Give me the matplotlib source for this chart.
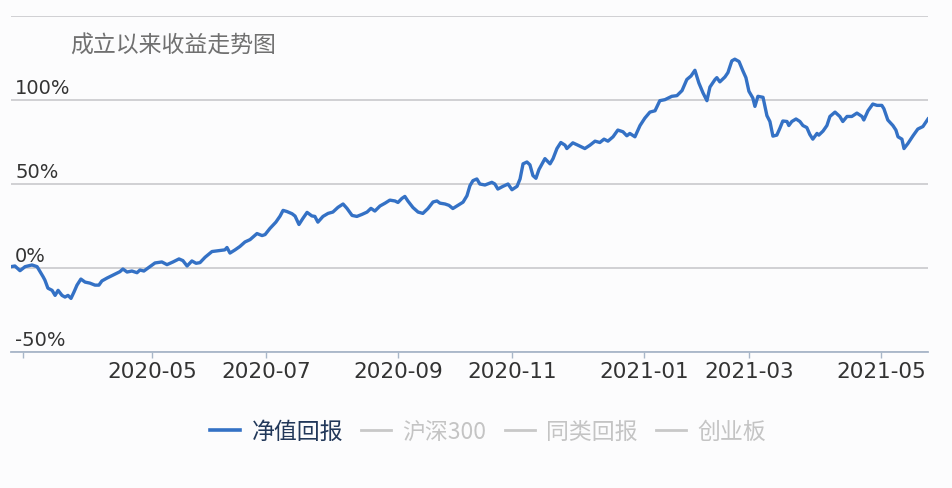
import matplotlib.pyplot as plt
from matplotlib.lines import Line2D
from matplotlib import transforms

# trading-day index since inception vs. cumulative return (%)
day = [0, 1.3, 3, 4.7, 7, 8.7, 9.7, 10.7, 11.3, 12.3, 13.7, 14.7, 15.7, 17, 18, 19, 20, 21, 22,
       23.3, 24.7, 26.3, 28, 29.3, 30.3, 32, 34, 36.3, 37.3, 38.7, 40.3, 42, 43, 44.3, 45.7,
       48, 50.3, 52, 54, 56, 57.3, 58.7, 60.3, 61.7, 63, 64.7, 67, 69.7, 71.3, 72, 73, 74.7,
       76.3, 78, 79.7, 80.7, 82, 83.7, 84.7, 86.3, 88.3, 89.7, 90.7, 92, 93.7, 94.7, 96,
       97.3, 98.7, 100.3, 101.3, 102.3, 104, 105.7, 107.3, 109, 110.7, 112, 113.7, 115.3, 117,
       118.7, 120, 121.3, 123, 124.7, 126.3, 128, 129, 130.3, 131.3, 132.3, 134, 135.7, 137.3,
       139, 140.7, 142, 143, 144.7, 146, 147.3, 149,
       150.7, 152, 153, 154, 155.3, 156.3, 158, 160.3, 161.3, 162.3, 164, 165.7, 167, 168.7,
       169.7, 170.7, 172, 173, 174, 175, 176, 178, 179.7, 180.7, 182, 183.3, 184.7, 185.3,
       187.3, 189, 191.3, 193, 194.7, 196.3, 197.7, 199,
       200.7, 202.3, 204, 205.3, 206.3, 208, 209.7, 211.3, 213, 214.7, 216.3, 218, 220.3, 222,
       223.7, 225.3, 226.7, 228, 229.3, 230.7, 232, 233, 234.7, 235.3, 236.3, 238, 239, 240.3,
       241.3, 242.7, 244, 245, 246, 247.3, 248, 249, 250.7, 252,
       253, 254, 255.3, 256.3, 257.3, 258.7, 259.3, 260.3, 261.7, 263, 264, 265.3, 266.3,
       267.3, 268.7, 269.3, 270.7, 272, 273, 274.7, 276.3, 277.3, 278.7, 280.3, 282, 283.7,
       284.3, 285.7, 287.3, 288.7, 290.3, 291, 292.3, 294, 295, 295.7, 297, 297.7, 299, 300.7,
       302.3, 304, 305.7]
ret = [0.8, 1.2, -1.6, 0.8, 1.8, 0.8, -2.2, -5.2, -7.2, -12.0, -13.3, -16.3, -13.3, -16.3,
       -17.3, -16.3, -18.1, -14.3, -10.2, -6.6, -8.4, -9.0, -10.2, -10.2, -7.7, -6.0, -4.2,
       -2.2, -0.6, -2.4, -1.8, -2.8, -1.2, -1.8, 0.0,
       3.0, 3.6, 2.0, 3.6, 5.4, 4.4, 1.2, 4.2, 2.8, 3.2, 6.4, 9.8, 10.4, 10.8, 12.2, 8.9, 10.8,
       12.8, 15.5, 16.9, 18.5, 20.5, 19.3, 19.9, 23.5, 27.3, 30.9, 34.3, 33.6, 32.3, 30.9, 25.9,
       29.5, 33.1, 31.0, 30.7, 27.3, 30.7, 32.5, 33.3, 36.1, 38.1, 35.5, 31.3, 30.7, 31.9,
       33.3, 35.5, 33.9, 36.9, 38.6, 40.4, 39.9, 39.0, 41.4, 42.6, 39.9, 36.0, 33.3, 32.5,
       35.4, 39.3, 39.9, 38.6, 38.1, 37.3, 35.4, 37.3,
       39.2, 43.0, 49.0, 52.0, 53.0, 50.0, 49.4, 51.0, 50.0, 47.0, 48.6, 50.0, 46.6, 48.6,
       53.0, 62.0, 63.1, 61.4, 55.0, 53.4, 58.6, 65.1, 62.0, 65.1, 71.1, 74.7, 73.1, 71.1,
       74.5, 73.1, 71.1, 73.1, 75.5, 74.7, 76.7, 75.5,
       78.1, 82.1, 81.1, 78.7, 80.1, 78.1, 84.8, 89.2, 92.8, 93.6, 99.6, 100.2, 102.2, 102.6,
       105.6, 112.2, 114.3, 117.7, 110.2, 104.2, 99.6, 107.7, 112.2, 113.3, 110.8, 113.7, 116.3,
       123.3, 124.3, 122.9, 117.3, 113.3, 105.2, 101.2, 96.2, 102.2, 101.6, 90.7,
       87.2, 78.5, 79.1, 83.1, 87.5, 87.2, 84.8, 87.2, 88.7, 87.2, 84.8, 83.6, 79.5,
       76.7, 80.1, 79.1, 81.5, 84.8, 90.2, 92.8, 90.2, 87.2, 90.2, 90.2, 92.2, 90.2,
       88.1, 93.6, 97.6, 96.8, 96.8, 94.8, 88.1, 84.8, 82.1, 78.1, 76.7, 71.1, 74.1, 78.7,
       82.7, 84.2, 88.7]

# month starts in trading-day index
month_pos = [4, 47, 85, 129, 167, 211, 246, 290]
month_labels = ['', '2020-05', '2020-07', '2020-09', '2020-11', '2021-01', '2021-03', '2021-05']
y_ticks = [-50, 0, 50, 100, 150]
y_labels = ['-50%', '0%', '50%', '100%', '']

legend_names = ['净值回报', '沪深300', '同类回报', '创业板']

blue = '#3471c5'
bg = '#fcfcfd'

plt.rcParams['font.family'] = ['Noto Sans CJK SC', 'DejaVu Sans']

fig = plt.figure(figsize=(9.52, 4.88), dpi=100, facecolor=bg)
ax = fig.add_axes([11 / 952, 1 - 352 / 488, 917 / 952, 336 / 488])
ax.set_facecolor(bg)

ax.plot(day, ret, color=blue, lw=2.4, solid_joinstyle='round', zorder=3)

ax.set_xlim(0, 305.7)
ax.set_ylim(-50, 150)

for s in ['top', 'right', 'left']:
    ax.spines[s].set_visible(False)
ax.spines['bottom'].set_color('#a8b6c8')
ax.spines['bottom'].set_linewidth(1.3)

ax.set_yticks(y_ticks)
ax.set_yticklabels([])
ax.tick_params(axis='y', length=0)
ax.grid(axis='y', color='#c9c9cc', lw=1.2)
ax.set_axisbelow(True)

ax.set_xticks(month_pos)
ax.set_xticklabels(month_labels, fontfamily='DejaVu Sans', fontsize=15.5, color='#333333')
ax.tick_params(axis='x', length=4.5, width=1, color='#a8b6c8', pad=2.5)

trans = transforms.blended_transform_factory(ax.transAxes, ax.transData)
for v, lab in zip(y_ticks, y_labels):
    ax.annotate(lab, xy=(0, v), xycoords=trans, xytext=(3, 4), textcoords='offset points',
                ha='left', va='baseline', fontsize=14, color='#333333',
                fontfamily='DejaVu Sans')

fig.text(70 / 952, 1 - 46 / 488, '成立以来收益走势图', fontsize=16.5, color='#707070',
         va='center', ha='left')

handles = [Line2D([], [], color=blue, lw=2.6)]
handles += [Line2D([], [], color='#c8c8c8', lw=2.0) for _ in legend_names[1:]]
leg = fig.legend(handles, legend_names, loc='center', bbox_to_anchor=(488 / 952, 1 - 432 / 488),
                 ncol=4, frameon=False, fontsize=16.5, handlelength=1.3, handletextpad=0.5,
                 columnspacing=0.8)
for i, t in enumerate(leg.get_texts()):
    t.set_color('#22385a' if i == 0 else '#c4c4c4')

fig.savefig('out.png', dpi=100, facecolor=bg)
